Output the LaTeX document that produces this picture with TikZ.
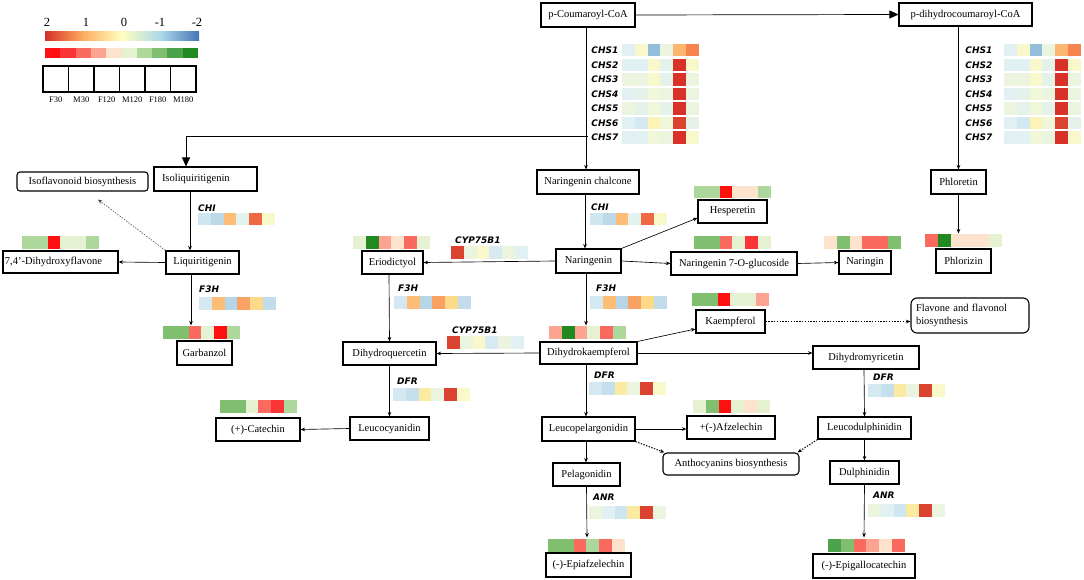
\documentclass[tikz,border=0pt]{standalone}
\usepackage{fontspec}
\setmainfont{Liberation Serif}
\newfontfamily\genefont{DejaVu Sans}
\usetikzlibrary{arrows.meta,calc}
% blue-red scale
\definecolor{lc}{HTML}{E1F1F3}
\definecolor{lctwo}{HTML}{D3E8F1}
\definecolor{vg}{HTML}{EAF4DF}
\definecolor{vgc}{HTML}{E4F2EA}
\definecolor{ly}{HTML}{F9F8CB}
\definecolor{lytwo}{HTML}{FCF3B4}
\definecolor{lyg}{HTML}{F0F6D8}
\definecolor{bl}{HTML}{92BEDB}
\definecolor{lo}{HTML}{FCB670}
\definecolor{orr}{HTML}{F7834F}
\definecolor{rd}{HTML}{D7312A}
\definecolor{rdtwo}{HTML}{D9432F}
\definecolor{lb}{HTML}{CFE5EF}
\definecolor{lbb}{HTML}{BDD9E8}
\definecolor{lbfour}{HTML}{B6D5E7}
\definecolor{lbfive}{HTML}{C2DDE9}
\definecolor{lbsix}{HTML}{D7EAF2}
\definecolor{lbseven}{HTML}{C5E0EC}
\definecolor{vgctwo}{HTML}{E3F2EE}
\definecolor{chired}{HTML}{EF6A42}
\definecolor{lotwo}{HTML}{FDBD77}
\definecolor{ortwo}{HTML}{F9A263}
\definecolor{loy}{HTML}{FDD98A}
\definecolor{yl}{HTML}{FBEAA2}
% green-red scale
\definecolor{gR}{HTML}{FF1010}
\definecolor{gRt}{HTML}{FB3535}
\definecolor{gLR}{HTML}{FB6A5E}
\definecolor{gS}{HTML}{FCA391}
\definecolor{gP}{HTML}{FDE2CC}
\definecolor{gV}{HTML}{E6F1D1}
\definecolor{gL}{HTML}{ADD79B}
\definecolor{gG}{HTML}{80BF70}
\definecolor{gM}{HTML}{4CA34C}
\definecolor{gD}{HTML}{208A20}
% legend gradient
\definecolor{sA}{HTML}{D73027}
\definecolor{sB}{HTML}{FDAE61}
\definecolor{sC}{HTML}{FFFFBF}
\definecolor{sD}{HTML}{ABD9E9}
\definecolor{sE}{HTML}{4575B4}
\pgfdeclarehorizontalshading{rdylbu}{100bp}{color(0bp)=(sA); color(25bp)=(sA); color(37.5bp)=(sB); color(50bp)=(sC); color(62.5bp)=(sD); color(75bp)=(sE); color(100bp)=(sE)}
\newcommand{\hmap}[3]{\foreach \cc [count=\ii from 0] in {#3} {\fill[fill=\cc] ({#1+\ii*12.8},{#2}) rectangle ++(12.9,12.5);}}
\begin{document}
\begin{tikzpicture}[x=1pt,y=-1pt,
  bx/.style 2 args={draw,line width=1.1pt,inner sep=0pt,font=\fontsize{10.5}{12.5}\selectfont,align=center,minimum width=#1,minimum height=#2},
  lbx/.style n args={3}{draw,line width=1.1pt,inner xsep=#3,inner ysep=0pt,font=\fontsize{10.5}{12.5}\selectfont,align=left,text width=#1,minimum height=#2},
  gene/.style={font=\genefont\bfseries\itshape\fontsize{9}{10}\selectfont,inner sep=0pt},
  arr/.style={-{Stealth[length=4.5pt,width=3.6pt]},line width=0.65pt},
  bigarr/.style={-{Triangle[length=9pt,width=8pt]},line width=0.7pt},
  dotarr/.style={-{Stealth[length=4.5pt,width=3.6pt]},line width=0.5pt,draw=black!75,dash pattern=on 1.6pt off 1.2pt},
  dotk/.style={-{Stealth[length=4.5pt,width=3.6pt]},line width=1pt,dash pattern=on 1.4pt off 1.4pt},
  lg/.style={font=\fontsize{12.5}{13}\selectfont,inner sep=0pt},
  lgs/.style={font=\fontsize{8.5}{9}\selectfont,inner sep=0pt}
]
\useasboundingbox (0,0) rectangle (1084,580);
% ---------------- legend
\node[lg] (l2) at (47,22) {2};
\node[lg] (l1) at (86,22) {1};
\node[lg] (l0) at (124,22) {0};
\node[lg] (lm1) at (160,22) {-1};
\node[lg] (lm2) at (197,22) {-2};
\shade[shading=rdylbu] (45,32) rectangle (199,41);
\foreach \cc [count=\ii from 0] in {gR,gRt,gLR,gS,gP,gV,gL,gG,gM,gD} {\fill[fill=\cc] ({45+\ii*15.3},48) rectangle ++(15.4,10);}
\foreach \ii in {0,...,5} {\draw[line width=1.3pt] ({43+\ii*25.5},66) rectangle ++(25.5,26);}
\foreach \t [count=\ii from 0] in {F30,M30,F120,M120,F180,M180} {\node[lgs] (ls\ii) at ({43+(\ii+0.5)*25.5},100) {\t};}
% ---------------- nodes
\node[bx={94pt}{24pt}] (pcoa) at (588,15) {p-Coumaroyl-CoA};
\node[bx={133pt}{23pt}] (pdh) at (965.5,14.5) {p-dihydrocoumaroyl-CoA};
\node[lbx={87pt}{24pt}{8pt}] (iso) at (205.5,179) {Isoliquiritigenin};
\node[bx={131pt}{19pt},rounded corners=3pt] (isoflav) at (82.5,181.5) {Isoflavonoid biosynthesis};
\node[bx={73pt}{23pt}] (liq) at (202.5,262.5) {Liquiritigenin};
\node[lbx={111pt}{22pt}{2pt}] (dhf) at (60.5,262) {7,4'-Dihydroxyflavone};
\node[bx={55pt}{24pt}] (garb) at (204.5,353) {Garbanzol};
\node[bx={102pt}{24pt}] (nc) at (588,182) {Naringenin chalcone};
\node[bx={65pt}{24pt}] (nar) at (588.5,261) {Naringenin};
\node[bx={61pt}{23pt}] (erio) at (392.5,262.5) {Eriodictyol};
\node[bx={93pt}{23pt}] (dhq) at (389.5,353.5) {Dihydroquercetin};
\node[bx={97pt}{22pt}] (dhk) at (588.5,353) {Dihydrokaempferol};
\node[bx={79pt}{23pt}] (leucy) at (389.5,428.5) {Leucocyanidin};
\node[bx={84pt}{23pt}] (cat) at (258,429.5) {(+)-Catechin};
\node[bx={93pt}{24pt}] (leupel) at (588.5,429) {Leucopelargonidin};
\node[bx={88pt}{23pt}] (afz) at (731,427.5) {+(-)Afzelechin};
\node[bx={136pt}{22pt},rounded corners=4pt] (antho) at (731,464) {Anthocyanins biosynthesis};
\node[bx={67pt}{23pt}] (pel) at (586.5,474.5) {Pelagonidin};
\node[bx={85pt}{24pt}] (epiafz) at (588.5,565) {(-)-Epiafzelechin};
\node[bx={55pt}{24pt}] (phl) at (958.5,182) {Phloretin};
\node[bx={55pt}{24pt}] (phlz) at (963.5,261) {Phlorizin};
\node[bx={69pt}{23pt}] (hesp) at (732.5,211.5) {Hesperetin};
\node[bx={126pt}{23pt}] (n7og) at (734,263.5) {Naringenin 7-O-glucoside};
\node[bx={52pt}{23pt}] (naringin) at (865,262.5) {Naringin};
\node[bx={69pt}{23pt}] (kae) at (730.5,321.5) {Kaempferol};
\node[lbx={108pt}{35pt}{5pt},rounded corners=6pt] (flav) at (970,315.5) {Flavone and flavonol\\biosynthesis};
\node[bx={106pt}{23pt}] (dhm) at (866,357.5) {Dihydromyricetin};
\node[bx={93pt}{22pt}] (leudel) at (864.5,428) {Leucodulphinidin};
\node[bx={69pt}{23pt}] (dul) at (864.5,472.5) {Dulphinidin};
\node[bx={102pt}{24pt}] (egc) at (864,566) {(-)-Epigallocatechin};
% ---------------- CHS blocks
\foreach \g/\yy in {1/44,2/58.55,3/73.1,4/87.65,5/102.2,6/116.75,7/131.3} {
  \node[gene,anchor=east] (chsl\g) at (618.5,{\yy+6.3}) {CHS\g};
  \node[gene,anchor=east] (chsr\g) at (992.5,{\yy+6.3}) {CHS\g};
}
\foreach \xx in {622,1004} {
\hmap{\xx}{44}{lc,ly,bl,vg,lo,orr}
\hmap{\xx}{58.55}{lc,lc,ly,vgc,rd,ly}
\hmap{\xx}{73.1}{vg,vg,ly,vgc,rd,vg}
\hmap{\xx}{87.65}{lc,vgc,lyg,vg,rd,vg}
\hmap{\xx}{102.2}{vg,vgc,lyg,vgc,rd,vg}
\hmap{\xx}{116.75}{lc,lctwo,lytwo,lyg,rdtwo,vgc}
\hmap{\xx}{131.3}{lc,lc,lyg,vg,rd,ly}
}
% ---------------- gene labels and heatmaps
\node[gene,anchor=west] (chi1) at (198,208) {CHI};
\hmap{198}{213}{lb,lbb,lotwo,vgctwo,chired,ly}
\node[gene,anchor=west] (f3h1) at (199,289) {F3H};
\hmap{199}{297}{lctwo,lotwo,lbfour,ortwo,loy,lbfive}
\node[gene,anchor=west] (chi2) at (591,207) {CHI};
\hmap{590}{213}{lb,lbb,lotwo,vgctwo,chired,ly}
\node[gene,anchor=west] (cyp1) at (455,240) {CYP75B1};
\hmap{451}{246}{rdtwo,vg,ly,lbsix,vg,lc}
\node[gene,anchor=west] (f3h2) at (398,288) {F3H};
\hmap{394}{296}{lctwo,lotwo,lbfour,ortwo,loy,lbfive}
\node[gene,anchor=west] (f3h3) at (596,288) {F3H};
\hmap{590}{296}{lctwo,lotwo,lbfour,ortwo,loy,lbfive}
\node[gene,anchor=west] (cyp2) at (452,330) {CYP75B1};
\hmap{447}{336}{rdtwo,vg,ly,lbsix,vg,lc}
\node[gene,anchor=west] (dfr1) at (397,381) {DFR};
\hmap{393}{388}{lctwo,lbseven,yl,vg,rdtwo,ly}
\node[gene,anchor=west] (dfr2) at (594,375) {DFR};
\hmap{589}{382}{lctwo,lbseven,yl,vg,rdtwo,ly}
\node[gene,anchor=west] (anr1) at (593,497) {ANR};
\hmap{589}{506}{vg,lc,lb,yl,rdtwo,vg}
\node[gene,anchor=west] (dfr3) at (873,377) {DFR};
\hmap{868}{384}{lctwo,lbseven,yl,vg,rdtwo,ly}
\node[gene,anchor=west] (anr2) at (873,495) {ANR};
\hmap{868}{504}{vg,lc,lb,yl,rdtwo,vg}
% metabolite heatmaps
\hmap{22}{236}{gL,gL,gR,gV,gV,gL}
\hmap{163}{326}{gG,gG,gLR,gV,gR,gL}
\hmap{353}{236}{gV,gD,gS,gP,gLR,gV}
\hmap{549}{326}{gS,gD,gS,gV,gLR,gL}
\hmap{220}{400}{gG,gG,gV,gLR,gRt,gL}
\hmap{694}{186}{gL,gL,gR,gP,gP,gL}
\hmap{694}{236}{gG,gG,gLR,gV,gRt,gV}
\hmap{824}{236}{gP,gG,gP,gLR,gLR,gG}
\hmap{925}{234}{gLR,gD,gP,gP,gP,gV}
\hmap{692}{293}{gG,gG,gR,gV,gV,gS}
\hmap{693}{400}{gV,gG,gR,gV,gP,gV}
\hmap{548}{539}{gG,gG,gLR,gL,gLR,gP}
\hmap{828}{539}{gM,gG,gLR,gS,gP,gLR}
% ---------------- connectors
\coordinate (j1) at (588,136);
\draw[bigarr] (pcoa.east) -- (pdh.west);
\draw[arr] ([xshift=-2pt]pcoa.south) -- ([xshift=-2pt]nc.north);
\draw[bigarr] (j1) -| ([xshift=-19.5pt]iso.north);
\draw[arr] ([xshift=-15.5pt]iso.south) -- ([xshift=-12.5pt]liq.north);
\draw[arr] (liq.west) -- (dhf.east);
\draw[dotarr] (liq.north west) -- ([shift={(15.5pt,-8pt)}]isoflav.south);
\draw[arr] ([xshift=-11.5pt]liq.south) -- ([xshift=-13.5pt,yshift=15pt]garb.north);
\draw[arr] ([xshift=-3pt]nc.south) -- ([xshift=-3.5pt]nar.north);
\draw[arr] (nar.west) -- (erio.east);
\draw[arr] (nar.north east) -- ([yshift=-6.5pt]hesp.west);
\draw[arr] (nar.east) -- (n7og.west);
\draw[arr] (n7og.east) -- (naringin.west);
\draw[arr] ([xshift=-2.5pt]nar.south) -- ([xshift=-2.5pt,yshift=16pt]dhk.north);
\draw[arr] ([xshift=-3.5pt]erio.south) -- (dhq.north);
\draw[arr] (dhk.west) -- (dhq.east);
\draw[arr] (dhk.north east) -- ([yshift=-7.5pt]kae.west);
\draw[dotk] (kae.east) -- (kae.east -| flav.west);
\draw[arr] (dhk.east) -- (dhk.east -| dhm.west);
\draw[arr] (dhq.south) -- (leucy.north);
\draw[arr] (leucy.west) -- (cat.east);
\draw[arr] ([xshift=-2.5pt]dhk.south) -- ([xshift=-2.5pt]leupel.north);
\draw[arr] (leupel.east) -- (leupel.east -| afz.west);
\draw[dotk] (leupel.south east) -- ([xshift=2pt]antho.north west);
\draw[dotk] (leudel.south west) -- ([xshift=-2pt]antho.north east);
\draw[arr] ([xshift=-2.5pt]leupel.south) -- ([xshift=-0.5pt]pel.north);
\draw[arr] (pel.south) -- ([xshift=-1.5pt,yshift=15pt]epiafz.north);
\draw[arr] (pdh.south -| phl.north) -- (phl.north);
\draw[arr] (phl.south) -- ([xshift=-5pt,yshift=15pt]phlz.north);
\draw[arr] ([xshift=-2pt]dhm.south) -- (leudel.north);
\draw[arr] (leudel.south) -- (dul.north);
\draw[arr] (dul.south) -- ([yshift=16pt]egc.north);
\end{tikzpicture}
\end{document}
